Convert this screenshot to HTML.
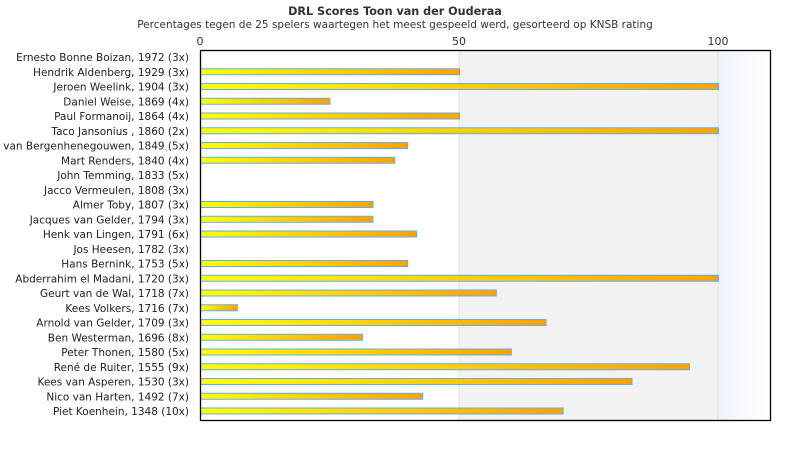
<!DOCTYPE html>
<html><head><meta charset="utf-8"><style>body{margin:0;background:#fff}svg{display:block}</style></head>
<body>
<svg width="790" height="450" xmlns="http://www.w3.org/2000/svg" font-family="DejaVu Sans, sans-serif">
<defs>
<linearGradient id="g" x1="0" x2="1" y1="0" y2="0"><stop offset="0" stop-color="#ffff00"/><stop offset="1" stop-color="#ffa200"/></linearGradient>
<linearGradient id="b" x1="0" x2="1"><stop offset="0" stop-color="#eef4fb"/><stop offset="1" stop-color="#ffffff"/></linearGradient>
</defs>
<text x="395" y="15" text-anchor="middle" font-size="11.2" font-weight="bold" fill="#333">DRL Scores Toon van der Ouderaa</text>
<text x="395" y="28" text-anchor="middle" font-size="10.5" fill="#333">Percentages tegen de 25 spelers waartegen het meest gespeeld werd, gesorteerd op KNSB rating</text>
<rect x="459" y="50" width="259" height="370" fill="#f2f2f2"/>
<rect x="718" y="50" width="52" height="370" fill="url(#b)"/>
<line x1="459" y1="50" x2="459" y2="420" stroke="#e2e2e2"/>
<line x1="718" y1="50" x2="718" y2="420" stroke="#e2e2e2"/>
<text x="200" y="45" text-anchor="middle" font-size="11" fill="#333">0</text>
<text x="459" y="45" text-anchor="middle" font-size="11" fill="#333">50</text>
<text x="718" y="45" text-anchor="middle" font-size="11" fill="#333">100</text>
<g font-size="10.5" fill="#222" text-anchor="end">
<text x="189" y="61">Ernesto Bonne Boizan, 1972 (3x)</text>
<text x="189" y="75.75">Hendrik Aldenberg, 1929 (3x)</text>
<text x="189" y="90.5">Jeroen Weelink, 1904 (3x)</text>
<text x="189" y="105.25">Daniel Weise, 1869 (4x)</text>
<text x="189" y="120">Paul Formanoij, 1864 (4x)</text>
<text x="189" y="134.75">Taco Jansonius , 1860 (2x)</text>
<text x="189" y="149.5">Rob van Bergenhenegouwen, 1849 (5x)</text>
<text x="189" y="164.25">Mart Renders, 1840 (4x)</text>
<text x="189" y="179">John Temming, 1833 (5x)</text>
<text x="189" y="193.75">Jacco Vermeulen, 1808 (3x)</text>
<text x="189" y="208.5">Almer Toby, 1807 (3x)</text>
<text x="189" y="223.25">Jacques van Gelder, 1794 (3x)</text>
<text x="189" y="238">Henk van Lingen, 1791 (6x)</text>
<text x="189" y="252.75">Jos Heesen, 1782 (3x)</text>
<text x="189" y="267.5">Hans Bernink, 1753 (5x)</text>
<text x="189" y="282.25">Abderrahim el Madani, 1720 (3x)</text>
<text x="189" y="297">Geurt van de Wal, 1718 (7x)</text>
<text x="189" y="311.75">Kees Volkers, 1716 (7x)</text>
<text x="189" y="326.5">Arnold van Gelder, 1709 (3x)</text>
<text x="189" y="341.25">Ben Westerman, 1696 (8x)</text>
<text x="189" y="356">Peter Thonen, 1580 (5x)</text>
<text x="189" y="370.75">René de Ruiter, 1555 (9x)</text>
<text x="189" y="385.5">Kees van Asperen, 1530 (3x)</text>
<text x="189" y="400.25">Nico van Harten, 1492 (7x)</text>
<text x="189" y="415">Piet Koenhein, 1348 (10x)</text>
</g>
<g fill="url(#g)" stroke="#66aaee" stroke-width="1">
<rect x="200.5" y="68.75" width="259" height="6"/>
<rect x="200.5" y="83.5" width="518" height="6"/>
<rect x="200.5" y="98.25" width="129.5" height="6"/>
<rect x="200.5" y="113" width="259" height="6"/>
<rect x="200.5" y="127.75" width="518" height="6"/>
<rect x="200.5" y="142.5" width="207.2" height="6"/>
<rect x="200.5" y="157.25" width="194.3" height="6"/>
<rect x="200.5" y="201.5" width="172.5" height="6"/>
<rect x="200.5" y="216.25" width="172.5" height="6"/>
<rect x="200.5" y="231" width="216" height="6"/>
<rect x="200.5" y="260.5" width="207.2" height="6"/>
<rect x="200.5" y="275.25" width="518" height="6"/>
<rect x="200.5" y="290" width="295.8" height="6"/>
<rect x="200.5" y="304.75" width="36.8" height="6"/>
<rect x="200.5" y="319.5" width="345.5" height="6"/>
<rect x="200.5" y="334.25" width="161.9" height="6"/>
<rect x="200.5" y="349" width="310.8" height="6"/>
<rect x="200.5" y="363.75" width="489" height="6"/>
<rect x="200.5" y="378.5" width="431.5" height="6"/>
<rect x="200.5" y="393.25" width="222.2" height="6"/>
<rect x="200.5" y="408" width="362.6" height="6"/>
</g>
<rect x="200.5" y="50.5" width="570" height="370" fill="none" stroke="#000" stroke-width="1.3"/>
</svg>
</body></html>
